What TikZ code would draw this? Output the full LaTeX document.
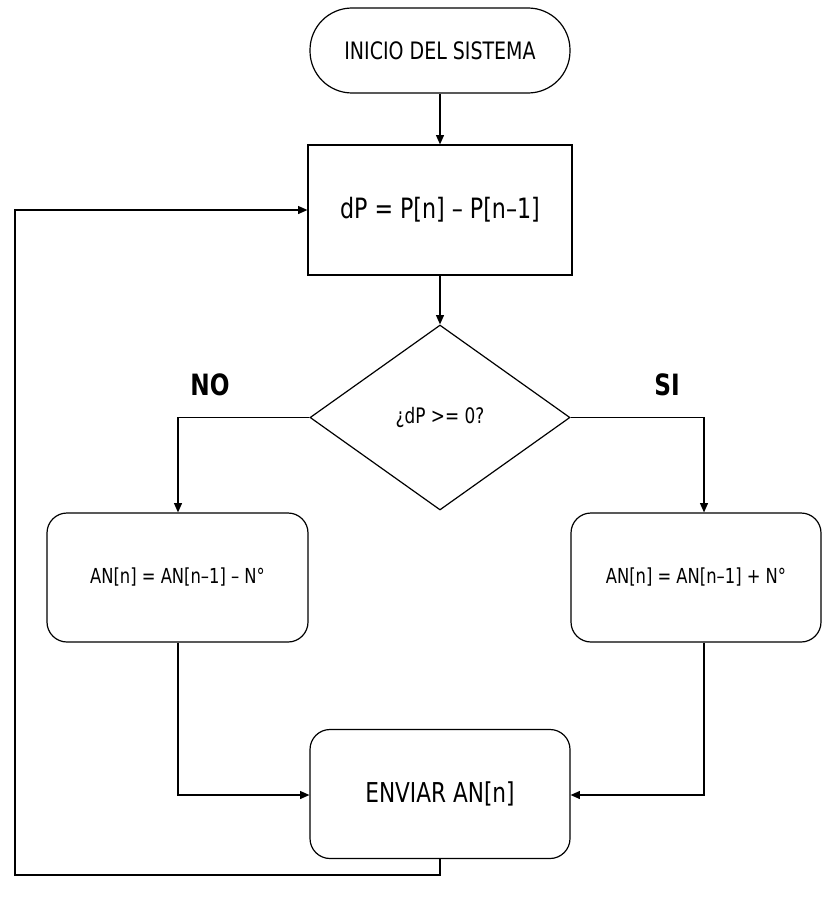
\documentclass[tikz,border=0pt]{standalone}
\usepackage{fontspec}
\setmainfont{DejaVu Sans Condensed}[FakeStretch=0.88]
\usetikzlibrary{shapes.geometric,arrows.meta}
\begin{document}
\begin{tikzpicture}[x=0.75pt,y=-0.75pt,
  line width=0.9pt,
  every node/.style={font=\fontsize{14}{16}\selectfont},
  terminal/.style={draw,rounded corners=31.5pt,minimum width=195pt,minimum height=63.75pt,inner sep=0pt},
  procbox/.style={draw,minimum width=198pt,minimum height=97.5pt,inner sep=0pt},
  roundbox/.style={draw,rounded corners=15pt,minimum width=195.75pt,minimum height=96.75pt,inner sep=0pt},
  decision/.style={draw,shape=diamond,minimum width=195pt,minimum height=138.75pt,inner sep=0pt},
  lbl/.style={font=\fontsize{22}{24}\selectfont\bfseries},
  arr/.style={-{Triangle[length=7pt,width=6pt]}}]
\useasboundingbox (0,0) rectangle (822,899);
\node[terminal,font=\fontsize{18}{20}\selectfont] (start) at (440,50.5) {INICIO DEL SISTEMA};
\node[procbox,font=\fontsize{21}{23}\selectfont] (calc) at (440,210) {dP = P[n] – P[n–1]};
\node[decision,font=\fontsize{16}{18}\selectfont] (dec) at (440,417.5) {¿dP >= 0?};
\node[roundbox,font=\fontsize{15.5}{17}\selectfont] (left) at (177.5,577.5) {AN[n] = AN[n–1] – N°};
\node[roundbox,minimum width=187.5pt,font=\fontsize{15.5}{17}\selectfont] (right) at (696,577.5) {AN[n] = AN[n–1] + N°};
\node[roundbox,minimum width=195pt,font=\fontsize{20.5}{22}\selectfont] (send) at (440,794) {ENVIAR AN[n]};
\node[lbl] (no) at (210,385) {NO};
\node[lbl] (si) at (667,385) {SI};
\coordinate (lc) at (178,417.5);
\coordinate (rc) at (704,417.5);
\coordinate (lb) at (178,795);
\coordinate (rb) at (704,795);
\coordinate (fb1) at (440,875);
\coordinate (fb2) at (15,875);
\coordinate (fb3) at (15,210);
\draw[arr] (start) -- (calc);
\draw[arr] (calc) -- (dec);
\draw[arr] (dec.west) -- (lc) -- (lc |- left.north);
\draw[arr] (dec.east) -- (rc) -- (rc |- right.north);
\draw[arr] (lc |- left.south) -- (lb) -- (send.west |- lb);
\draw[arr] (rc |- right.south) -- (rb) -- (send.east |- rb);
\draw[arr] (send.south) -- (fb1) -- (fb2) -- (fb3) -- (calc.west);
\end{tikzpicture}
\end{document}
